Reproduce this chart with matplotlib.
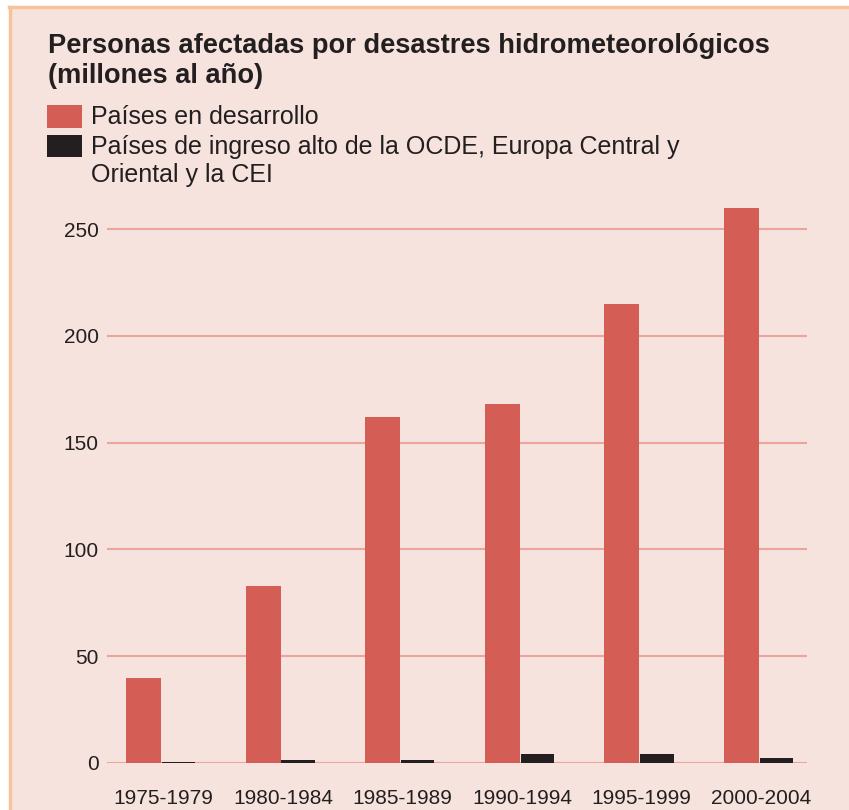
import matplotlib
matplotlib.use("Agg")
import matplotlib.pyplot as plt
from matplotlib.patches import Rectangle
import numpy as np

categories = ["1975-1979", "1980-1984", "1985-1989", "1990-1994", "1995-1999", "2000-2004"]
developing = [40, 83, 162, 168, 215, 260]
high_income = [0.5, 1.5, 1.5, 4.2, 4.2, 2.3]
yticks = [0, 50, 100, 150, 200, 250]

title = "Personas afectadas por desastres hidrometeorológicos\n(millones al año)"
leg1 = "Países en desarrollo"
leg2 = "Países de ingreso alto de la OCDE, Europa Central y\nOriental y la CEI"

plt.rcParams['font.family'] = ['Liberation Sans', 'DejaVu Sans']

W, H = 849, 810
fig = plt.figure(figsize=(W / 100, H / 100), dpi=100)
bg = "#F7E3DD"
fig.patch.set_facecolor("white")
# panel background and orange border
fig.add_artist(Rectangle((9 / W, 0), 1, 1 - 6 / H, transform=fig.transFigure,
                         facecolor=bg, edgecolor="none", zorder=-10))
fig.add_artist(plt.Line2D([8.5 / W, 1], [1 - 6.5 / H, 1 - 6.5 / H], color="#F9C39A", lw=2.5,
                          transform=fig.transFigure, zorder=-5))
fig.add_artist(plt.Line2D([9.5 / W, 9.5 / W], [0, 1 - 6.5 / H], color="#F9C39A", lw=2.5,
                          transform=fig.transFigure, zorder=-5))

red = "#D45E55"
black = "#231F20"
grid = "#EBA59C"

px_per_unit = 119.6
x0_pix = 161
left_pix, right_pix = 107, 807
xl = (left_pix - x0_pix) / px_per_unit
xr = (right_pix - x0_pix) / px_per_unit

zero_pix = 763
top_pix = 203.4
ax = fig.add_axes([left_pix / W, (H - zero_pix) / H, (right_pix - left_pix) / W,
                   (zero_pix - top_pix) / H])
ax.set_facecolor("none")
ax.set_xlim(xl, xr)
ax.set_ylim(0, 262)

x = np.arange(len(categories))
bw = 35 / px_per_unit
ax.bar(x - bw / 2, developing, width=bw, color=red, zorder=3)
ax.bar(x + bw / 2, high_income, width=bw * 0.95, color=black, zorder=3)

ax.set_yticks(yticks)
ax.set_yticklabels([str(v) for v in yticks], fontsize=15, color="#231F20")
ax.set_xticks(x + 0.02)
ax.set_xticklabels(categories, fontsize=15, color="#231F20")
ax.tick_params(axis='both', length=0)
ax.tick_params(axis='y', pad=6)
ax.tick_params(axis='x', pad=19)
for v in yticks:
    ax.axhline(v, color=grid, lw=1.5, zorder=1)
for s in ax.spines.values():
    s.set_visible(False)

fig.text(48 / W, 1 - 61 / H, title, fontsize=19.6, fontweight='bold', color="#231F20",
         va='center', ha='left', linespacing=1.2)

fig.add_artist(Rectangle((47 / W, 1 - 128 / H), 35 / W, 23 / H, transform=fig.transFigure,
                         facecolor=red, edgecolor='none'))
fig.add_artist(Rectangle((47 / W, 1 - 157 / H), 35 / W, 22 / H, transform=fig.transFigure,
                         facecolor=black, edgecolor='none'))
fig.text(91 / W, 1 - 117 / H, leg1, fontsize=18, color="#231F20", va='center', ha='left')
fig.text(91 / W, 1 - 161 / H, leg2, fontsize=18, color="#231F20", va='center', ha='left',
         linespacing=1.2)

fig.savefig("out.png", dpi=100, facecolor=fig.get_facecolor())
